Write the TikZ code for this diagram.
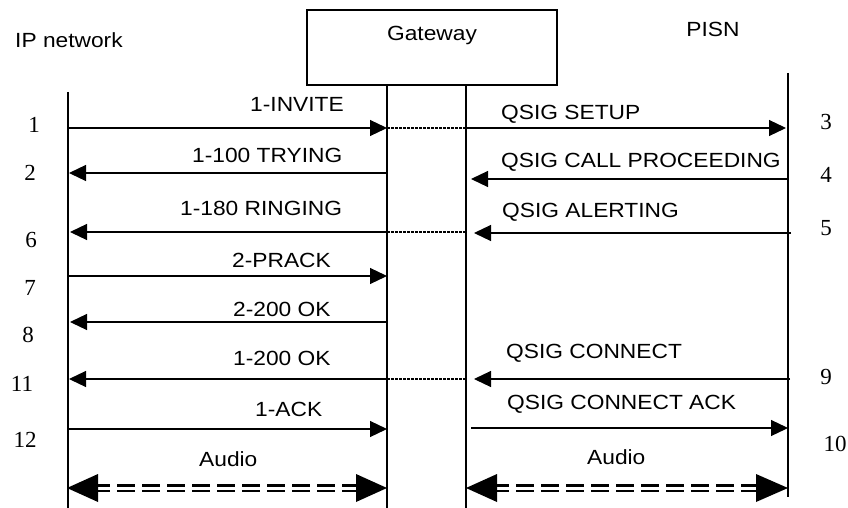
\documentclass[tikz,border=0pt]{standalone}
\usepackage{fontspec}
\setmainfont{Liberation Sans}
\newfontfamily\labfont{Liberation Sans}[FakeStretch=1.11]
\newfontfamily\numfont{Liberation Serif}
\usetikzlibrary{arrows.meta}
\begin{document}
\begin{tikzpicture}[x=1pt,y=-1pt,
  msg/.style={line width=1.2pt,-{Triangle[length=17pt,width=16pt]}},
  lab/.style={anchor=base west,inner sep=0pt,font=\labfont\fontsize{20.5}{24}\selectfont},
  ttl/.style={anchor=base,inner sep=0pt,font=\labfont\fontsize{20.5}{24}\selectfont},
  num/.style={anchor=base,inner sep=0pt,font=\numfont\fontsize{23}{27}\selectfont},
  life/.style={line width=1.3pt},
  dotline/.style={line width=2pt,dash pattern=on 2.5pt off 1.5pt},
  audioline/.style={line width=2.6pt,double distance=3pt,dash pattern=on 18pt off 7pt},
  audiohead/.style={fill=black}
]
\useasboundingbox (0,0) rectangle (848,508);
% header
\node[draw,line width=1.2pt,minimum width=250pt,minimum height=75pt,inner sep=0pt] (gw) at (432,47.5) {};
\node[ttl] (gwt) at (432,41) {Gateway};
\node[lab] (ipt) at (15,48) {IP network};
\node[ttl] (pisnt) at (713,37) {PISN};
% lifelines
\coordinate (ipT) at (68,92);   \coordinate (ipB) at (68,508);
\coordinate (glT) at (387,85);  \coordinate (glB) at (387,508);
\coordinate (grT) at (466,85);  \coordinate (grB) at (466,508);
\coordinate (psT) at (788,73);  \coordinate (psB) at (788,497);
\draw[life] (ipT) -- (ipB);
\draw[life] (glT) -- (glB);
\draw[life] (grT) -- (grB);
\draw[life] (psT) -- (psB);
% endpoints
\coordinate (a1) at (68,128);  \coordinate (b1) at (387,128); \coordinate (c1) at (466,128); \coordinate (d1) at (786,128);
\coordinate (a2) at (69,173);  \coordinate (b2) at (387,173);
\coordinate (c4) at (471,179); \coordinate (d4) at (788,179);
\coordinate (a6) at (70,232);  \coordinate (b6) at (387,232); \coordinate (c6) at (466,232);
\coordinate (c5) at (474,233); \coordinate (d5) at (791,233);
\coordinate (a7) at (68,276);  \coordinate (b7) at (387,276);
\coordinate (a8) at (70,322);  \coordinate (b8) at (387,322);
\coordinate (a11) at (69,379); \coordinate (b11) at (387,379); \coordinate (c11) at (466,379);
\coordinate (c9) at (474,379); \coordinate (d9) at (790,379);
\coordinate (a12) at (68,429); \coordinate (b12) at (387,429);
\coordinate (c10) at (471,428); \coordinate (d10) at (788,428);
% messages
\draw[msg] (a1) -- (b1);
\draw[dotline] (b1) -- (c1);
\draw[msg] (c1) -- (d1);
\draw[msg] (b2) -- (a2);
\draw[msg] (d4) -- (c4);
\draw[msg] (b6) -- (a6);
\draw[dotline] (b6) -- (c6);
\draw[msg] (d5) -- (c5);
\draw[msg] (a7) -- (b7);
\draw[msg] (b8) -- (a8);
\draw[msg] (b11) -- (a11);
\draw[dotline] (b11) -- (c11);
\draw[msg] (d9) -- (c9);
\draw[msg] (a12) -- (b12);
\draw[msg] (c10) -- (d10);
% labels
\node[lab] (l1) at (250,112) {1-INVITE};
\node[lab] (l2) at (192,162) {1-100 TRYING};
\node[lab] (l6) at (180,215) {1-180 RINGING};
\node[lab] (l7) at (232,267) {2-PRACK};
\node[lab] (l8) at (233,316) {2-200 OK};
\node[lab] (l11) at (233,365) {1-200 OK};
\node[lab] (l12) at (255,416) {1-ACK};
\node[lab] (lau1) at (199,466) {Audio};
\node[lab] (l3) at (501,120) {QSIG SETUP};
\node[lab] (l4) at (501,167) {QSIG CALL PROCEEDING};
\node[lab] (l5) at (502,217) {QSIG ALERTING};
\node[lab] (l9) at (506,358) {QSIG CONNECT};
\node[lab] (l10) at (507,409) {QSIG CONNECT ACK};
\node[lab] (lau2) at (587,464) {Audio};
% numbers
\node[num] (n1) at (34,132) {1};
\node[num] (n2) at (30,180) {2};
\node[num] (n6) at (31,247) {6};
\node[num] (n7) at (30,295) {7};
\node[num] (n8) at (28,342) {8};
\node[num] (n11) at (22,391) {11};
\node[num] (n12) at (25,447) {12};
\node[num] (n3) at (826,130) {3};
\node[num] (n4) at (826,182) {4};
\node[num] (n5) at (826,235) {5};
\node[num] (n9) at (826,384) {9};
\node[num] (n10) at (835,451) {10};
% audio
\coordinate (au1) at (67,488); \coordinate (au2) at (387,488);
\coordinate (au3) at (466,488); \coordinate (au4) at (788,488);
\draw[audioline] ([xshift=25pt]au1) -- ([xshift=-25pt]au2);
\draw[audioline] ([xshift=25pt]au3) -- ([xshift=-25pt]au4);
\fill[audiohead] (au1) -- ++(31,-14) -- ++(0,28) -- cycle;
\fill[audiohead] (au2) -- ++(-31,-14) -- ++(0,28) -- cycle;
\fill[audiohead] (au3) -- ++(31,-14) -- ++(0,28) -- cycle;
\fill[audiohead] (au4) -- ++(-32,-14) -- ++(0,28) -- cycle;
\end{tikzpicture}
\end{document}
